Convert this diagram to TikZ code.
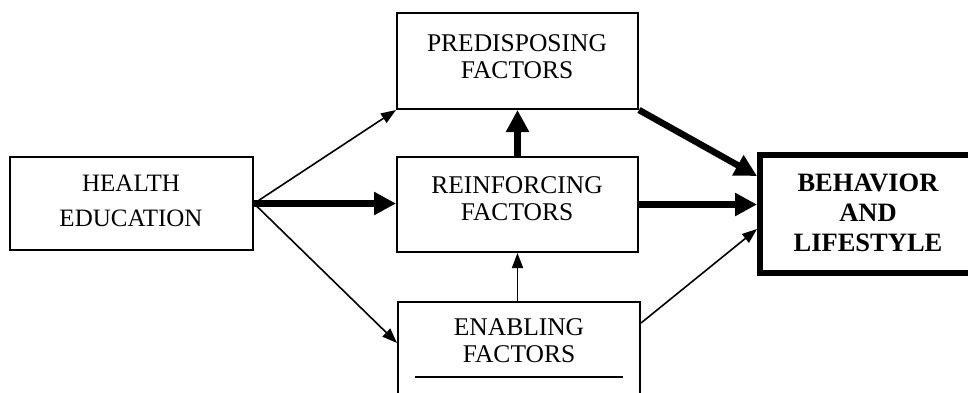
\documentclass[tikz,border=0pt]{standalone}
\usepackage{fontspec}
\setmainfont{Liberation Serif}
\usetikzlibrary{arrows.meta,calc}
\begin{document}
\begin{tikzpicture}[x=1pt,y=-1pt,
  box/.style={draw, line width=2pt, inner sep=0pt},
  lbl/.style={align=center, inner sep=0pt, font=\fontsize{25.5}{27}\selectfont},
  lightarr/.style={line width=1.6pt, -{Triangle[length=15pt,width=11pt]}},
  heavyarr/.style={line width=6.5pt, -{Triangle[length=22pt,width=22pt]}},
  ]
\useasboundingbox (0,0) rectangle (968,392);
% boxes
\node[box, minimum width=243pt, minimum height=93pt] (he) at (131.5,203.5) {};
\node[box, minimum width=241pt, minimum height=96pt] (pd) at (517.5,61) {};
\node[box, minimum width=241pt, minimum height=95pt] (rf) at (517.5,204.5) {};
\node[box, minimum width=242pt, minimum height=120pt, anchor=north] (en) at (519,301) {};
\node[draw, line width=6pt, inner sep=0pt, minimum width=217pt, minimum height=118pt] (bh) at (868.5,214) {};
% labels
\node[lbl, font=\fontsize{25}{35}\selectfont] (het) at (131,201) {HEALTH\\EDUCATION};
\node[lbl] (pdt) at (517,57) {PREDISPOSING\\FACTORS};
\node[lbl] (rft) at (517,199) {REINFORCING\\FACTORS};
\node[lbl] (ent) at (519,341) {ENABLING\\FACTORS};
\node[lbl, font=\fontsize{26.5}{30}\selectfont\bfseries] (bht) at (868,213) {BEHAVIOR\\AND\\LIFESTYLE};
% inner rule of the enabling box
\draw[line width=1.5pt] (415,377) -- (623,377);
% connectors
\draw[lightarr] (he.east) -- (pd.south west);
\draw[heavyarr] (he.east) -- (he.east -| rf.west);
\draw[lightarr] (he.east) -- ($(en.north west)+(0,42)$);
\draw[heavyarr] (rf.north) -- (pd.south);
\draw[lightarr] (en.north -| rf.south) -- (rf.south);
\draw[heavyarr] (pd.south east) -- ($(bh.west)+(0,-38)$);
\draw[heavyarr] (rf.east) -- (rf.east -| bh.west);
\draw[lightarr] ($(en.north east)+(0,22)$) -- ($(bh.west)+(0,15)$);
\end{tikzpicture}
\end{document}
